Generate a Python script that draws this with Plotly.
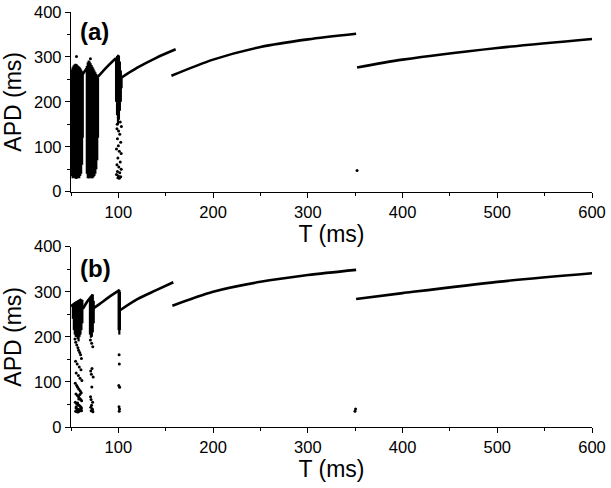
import plotly.graph_objects as go

# ---------------- data ----------------
# Panel (a): periodic branches (T in ms, APD in ms)
a_seg1_T = [62.5, 66.5];                 a_seg1_A = [262, 274]
a_seg2_T = [78.5, 88, 97.4];             a_seg2_A = [256, 278, 297]
a_seg3_T = [102.5, 120, 140, 160.5];     a_seg3_A = [253, 276, 298, 317]
a_seg4_T = [156, 200, 250, 300, 351];    a_seg4_A = [258, 294, 322, 339, 351.5]
a_seg5_T = [352, 400, 500, 600];         a_seg5_A = [276.5, 294, 320, 340]

# Panel (a): dense irregular bands (T, lowest APD, highest APD)
a_band1_T  = [50.7, 51.7, 52.7, 53.7, 54.7, 55.7, 56.7, 57.7, 58.7, 59.7, 60.7, 61.7, 62.4]
a_band1_lo = [35, 30, 32, 30, 30, 28, 30, 32, 30, 35, 40, 60, 120]
a_band1_hi = [272, 277, 281, 283, 285, 284, 282, 280, 278, 276, 272, 268, 262]
a_band2_T  = [66.7, 67.7, 68.7, 69.7, 70.7, 71.7, 72.7, 73.7, 74.7, 75.7, 76.7, 77.7, 78.5]
a_band2_lo = [40, 30, 30, 30, 32, 30, 30, 32, 35, 40, 50, 70, 120]
a_band2_hi = [280, 288, 292, 290, 286, 282, 278, 274, 270, 266, 262, 258, 255]
a_band3_T  = [97.6, 98.6, 99.6, 100.6, 101.6, 102.6, 103.4]
a_band3_lo = [200, 170, 150, 160, 180, 200, 230]
a_band3_hi = [298, 302, 305, 303, 290, 270, 255]

# Panel (a): isolated points
a_dots_T = [55.8, 70.5, 98.5, 100.2, 101.5, 99.0, 102.5, 100.0, 98.0, 101.0, 103.0,
            99.5, 102.0, 98.5, 100.5, 103.0, 99.0, 101.5, 98.0, 100.0, 102.5, 99.5,
            101.0, 98.8, 102.0, 100.0, 103.2, 352]
a_dots_A = [301, 296, 140, 135, 128, 118, 110, 102, 95, 90, 85,
            75, 66, 60, 55, 50, 45, 42, 38, 35, 33, 31,
            30, 150, 155, 165, 145, 47]

# Panel (b): periodic branches
b_seg1_T = [50, 55, 61];                 b_seg1_A = [268, 275, 283]
b_seg2_T = [62.5, 67, 73];               b_seg2_A = [262, 278, 294]
b_seg3_T = [73.5, 80, 90, 101.5];        b_seg3_A = [263, 272.5, 288, 304]
b_seg4_T = [101.8, 120, 140, 158];       b_seg4_A = [259, 283.5, 303.5, 321]
b_seg5_T = [157, 200, 250, 300, 351];    b_seg5_A = [269, 300, 322, 337, 348.5]
b_seg6_T = [351, 400, 500, 600];         b_seg6_A = [284, 297, 322, 341]

# Panel (b): dense tops of the irregular bands
b_band1_T  = [52, 53, 54, 55, 56, 57, 58, 59, 60, 61, 62]
b_band1_lo = [240, 215, 205, 200, 200, 195, 190, 200, 205, 215, 230]
b_band1_hi = [272, 275, 277, 278, 279, 280, 281, 282, 283, 283, 282]
b_band2_T  = [70, 71, 72, 73, 74]
b_band2_lo = [205, 198, 200, 210, 230]
b_band2_hi = [284, 288, 291, 294, 280]
b_band3_T  = [100.3, 101.0, 101.6]
b_band3_lo = [215, 205, 215]
b_band3_hi = [300, 304, 300]

# Panel (b): isolated points
b_dots_T = [54.2, 55.0, 56.1, 57.3, 58.0, 59.2, 60.1, 61.0, 54.8, 56.5, 58.7, 60.5, 55.5,
            57.8, 59.5, 61.5, 54.5, 56.0, 57.0, 58.3, 59.8, 60.8, 55.2, 56.8, 58.0, 59.0,
            60.2, 61.2, 54.6, 55.8, 57.2, 58.5, 59.6, 60.6, 55.3, 56.4, 57.6, 58.9, 60.0,
            61.1, 54.9, 56.2, 57.4, 58.6, 59.7, 60.9, 55.6, 57.0, 58.2, 59.4,
            70.5, 71.8, 73.0, 72.2, 70.8, 71.5, 73.4, 72.0, 70.6, 71.2, 72.8, 71.7, 70.9,
            72.4, 71.3, 73.1, 72.6,
            100.8, 101.0, 100.5, 101.3, 100.7, 101.2, 100.9,
            349.8, 350.4]
b_dots_A = [195, 188, 182, 176, 170, 165, 160, 152, 146, 140, 133, 127, 120,
            114, 108, 103, 97, 92, 88, 84, 80, 76, 73, 70, 67, 64,
            61, 58, 55, 52, 50, 48, 46, 44, 42, 40, 39, 38, 37,
            36, 35, 34, 33, 35, 38, 41, 45, 53, 62, 72,
            193, 186, 178, 130, 124, 117, 111, 89, 67, 61, 55, 48, 44,
            40, 36, 34, 38,
            160, 140, 92, 88, 45, 40, 35,
            35, 40]

x_tick_vals = [100, 200, 300, 400, 500, 600]
y_tick_vals = [0, 100, 200, 300, 400]

# ---------------- figure ----------------
BLACK = "black"
fig = go.Figure()


def add_line(T, A, xa, ya):
    fig.add_trace(go.Scatter(x=T, y=A, mode="lines", xaxis=xa, yaxis=ya,
                             line=dict(color=BLACK, width=2.6, shape="spline", smoothing=0.8),
                             showlegend=False, hoverinfo="skip"))


def add_band(T, lo, hi, xa, ya):
    xs, ys = [], []
    for t, l, h in zip(T, lo, hi):
        xs += [t, t, None]
        ys += [l, h, None]
    fig.add_trace(go.Scatter(x=xs, y=ys, mode="lines", xaxis=xa, yaxis=ya,
                             line=dict(color=BLACK, width=2.2),
                             showlegend=False, hoverinfo="skip"))


def add_dots(T, A, xa, ya):
    fig.add_trace(go.Scatter(x=T, y=A, mode="markers", xaxis=xa, yaxis=ya,
                             marker=dict(color=BLACK, size=3),
                             showlegend=False, hoverinfo="skip"))


for T, A in [(a_seg1_T, a_seg1_A), (a_seg2_T, a_seg2_A), (a_seg3_T, a_seg3_A),
             (a_seg4_T, a_seg4_A), (a_seg5_T, a_seg5_A)]:
    add_line(T, A, "x", "y")
for T, lo, hi in [(a_band1_T, a_band1_lo, a_band1_hi), (a_band2_T, a_band2_lo, a_band2_hi),
                  (a_band3_T, a_band3_lo, a_band3_hi)]:
    add_band(T, lo, hi, "x", "y")
add_dots(a_dots_T, a_dots_A, "x", "y")

for T, A in [(b_seg1_T, b_seg1_A), (b_seg2_T, b_seg2_A), (b_seg3_T, b_seg3_A),
             (b_seg4_T, b_seg4_A), (b_seg5_T, b_seg5_A), (b_seg6_T, b_seg6_A)]:
    add_line(T, A, "x2", "y2")
for T, lo, hi in [(b_band1_T, b_band1_lo, b_band1_hi), (b_band2_T, b_band2_lo, b_band2_hi),
                  (b_band3_T, b_band3_lo, b_band3_hi)]:
    add_band(T, lo, hi, "x2", "y2")
add_dots(b_dots_T, b_dots_A, "x2", "y2")

FONT = "Liberation Sans, Arial, sans-serif"
tickfont = dict(family=FONT, size=16.5, color=BLACK)
titlefont = dict(family=FONT, size=23, color=BLACK)

xcommon = dict(range=[50, 600], tickvals=x_tick_vals, showline=True, linecolor=BLACK,
               linewidth=1.3, ticks="outside", ticklen=5, tickwidth=1.3, tickcolor=BLACK,
               showgrid=False, zeroline=False, tickfont=tickfont, automargin=False,
               ticklabeloverflow="allow",
               minor=dict(ticks="outside", ticklen=3, tickwidth=1.2, tickcolor=BLACK,
                          tick0=0, dtick=50, showgrid=False),
               title=dict(text="T (ms)", font=titlefont, standoff=4))
ycommon = dict(range=[0, 400], tickvals=y_tick_vals, showline=True, linecolor=BLACK,
               linewidth=1.3, ticks="outside", ticklen=5, tickwidth=1.3, tickcolor=BLACK,
               showgrid=False, zeroline=False, tickfont=tickfont, automargin=False,
               ticklabeloverflow="allow",
               minor=dict(ticks="outside", ticklen=3, tickwidth=1.2, tickcolor=BLACK,
                          tick0=0, dtick=50, showgrid=False),
               title=dict(text="APD (ms)", font=titlefont, standoff=5))

fig.update_layout(
    width=611, height=488,
    margin=dict(l=71, r=19, t=12, b=61),
    paper_bgcolor="white", plot_bgcolor="white",
    xaxis=dict(domain=[0, 1], anchor="y", **xcommon),
    yaxis=dict(domain=[0.567, 1.0], anchor="x", **ycommon),
    xaxis2=dict(domain=[0, 1], anchor="y2", **xcommon),
    yaxis2=dict(domain=[0, 0.4345], anchor="x2", **ycommon),
    annotations=[
        dict(text="<b>(a)</b>", x=0.0134, y=0.952, xref="paper", yref="paper",
             xanchor="left", yanchor="middle", showarrow=False,
             font=dict(family=FONT, size=24, color=BLACK)),
        dict(text="<b>(b)</b>", x=0.0134, y=0.383, xref="paper", yref="paper",
             xanchor="left", yanchor="middle", showarrow=False,
             font=dict(family=FONT, size=24, color=BLACK)),
    ],
    showlegend=False,
)

# remove the default page margin so the 611x488 figure fills the window exactly
fig.write_html("out.html",
               config={"displayModeBar": False},
               post_script="document.body.style.margin='0';"
                           "document.body.style.overflow='hidden';")
